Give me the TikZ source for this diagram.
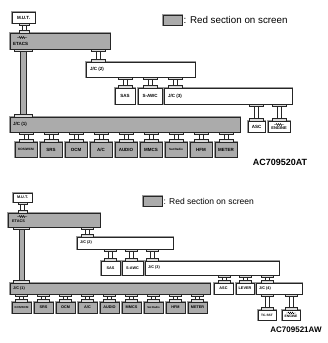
\documentclass[tikz,border=0pt]{standalone}
\usepackage{fontspec}
\setmainfont{Liberation Sans}
\usetikzlibrary{calc}
\tikzset{
  base/.style={rectangle, draw=black!85, line width=0.45pt, inner sep=0pt, outer sep=0pt,
    preaction={draw=black!40, line width=1.4pt}},
  wb/.style={base, fill=white, font=\bfseries\fontsize{4.5}{5}\selectfont},
  gb/.style={base, fill=black!33, font=\bfseries\fontsize{4.5}{5}\selectfont},
  wbs/.style={wb, font=\bfseries\fontsize{3.8}{4.5}\selectfont},
  gbs/.style={gb, font=\bfseries\fontsize{3.8}{4.5}\selectfont},
  lbl/.style={anchor=west, inner sep=0pt, font=\bfseries\fontsize{4.5}{5}\selectfont},
  lbls/.style={anchor=west, inner sep=0pt, font=\bfseries\fontsize{3.8}{4.5}\selectfont},
  wire/.style={draw=black!85, line width=0.45pt},
  tab/.style={draw=black!85, fill=black!15, line width=0.4pt},
}
\newcommand\B[7]{\node[#1, anchor=north west, minimum width={#5-#3}, minimum height={#6-#4}] (#2) at (#3,#4) {#7};}
\newcommand\conn[4]{%
  \coordinate (ct) at (#1.south -| #3,0);
  \coordinate (cb) at (#2.north -| #3,0);
  \draw[wire] ($(ct)+(-2.2,0)$) -- ($(cb)+(-2.2,0)$) ($(ct)+(2.2,0)$) -- ($(cb)+(2.2,0)$);
  \draw[tab] ($(ct)+(-#4,0)$) rectangle ($(ct)+(#4,1.8)$);
  \draw[tab] ($(cb)+(-#4,0)$) rectangle ($(cb)+(#4,-2.4)$);
}
\newcommand\trunk[5]{%
  \coordinate (ct) at (#1.south -| #3,0);
  \coordinate (cb) at (#2.north -| #3,0);
  \fill[black!33] ($(ct)+(-#4,0)$) rectangle ($(cb)+(#4,0)$);
  \draw[wire] ($(ct)+(-#4,0)$) -- ($(cb)+(-#4,0)$) ($(ct)+(#4,0)$) -- ($(cb)+(#4,0)$);
  \draw[tab] ($(ct)+(-#5,0)$) rectangle ($(ct)+(#5,2)$);
  \draw[tab] ($(cb)+(-#5,0)$) rectangle ($(cb)+(#5,-2.6)$);
}
\newcommand\zz[1]{\draw[line width=0.35pt] ($(#1)+(-5,0)$) -- ++(2,0) -- ++(0.5,-0.9) -- ++(1,1.8) -- ++(1,-1.8) -- ++(1,1.8) -- ++(1,-1.8) -- ++(1,1.8) -- ++(0.5,-0.9) -- ++(2,0);}
\begin{document}
\begin{tikzpicture}[x=1pt,y=-1pt]
\useasboundingbox (0,0) rectangle (328,343);
% ================= diagram 1 =================
\B{gb}{legA}{163}{15}{182}{25}{}
\node[anchor=west, inner sep=0pt, font=\fontsize{9.8}{11}\selectfont] (legtA) at (183.5,20) {: Red section on screen};
\B{wb}{mutA}{12}{12}{35}{23}{M.U.T.}
\B{gb}{etA}{10}{33}{110}{49}{}
\coordinate (zA) at (22,37.5); \zz{zA}
\node[lbl] (etlA) at (13,43.5) {ETACS};
\B{wb}{jc2A}{86}{62}{195}{77}{}
\node[lbl] (jc2lA) at (90,69.5) {J/C (2)};
\B{wb}{sasA}{115}{88}{135}{104}{SAS}
\B{wb}{awcA}{138}{88}{162}{104}{S-AWC}
\B{wb}{jc3A}{164}{88}{292}{104}{}
\node[lbl] (jc3lA) at (168,96) {J/C (3)};
\B{wb}{ascA}{248}{121}{265}{132}{ASC}
\B{wb}{engA}{268}{121}{290}{132}{}
\coordinate (zeA) at (279,124.5); \zz{zeA}
\node[inner sep=0pt, font=\bfseries\fontsize{4}{4.5}\selectfont] (englA) at (279,128.5) {ENGINE};
\B{gb}{jc1A}{10}{117}{240}{132}{}
\node[lbl] (jc1lA) at (13,124.5) {J/C (1)};
\B{gbs}{kosA}{15}{142}{37}{157}{\fontsize{3.2}{4}\selectfont KOS/WCM}
\B{gb}{srsA}{40}{142}{62}{157}{SRS}
\B{gb}{ocmA}{65}{142}{87}{157}{OCM}
\B{gb}{acA}{90}{142}{112}{157}{A/C}
\B{gb}{audA}{115}{142}{137}{157}{AUDIO}
\B{gb}{mmcA}{140}{142}{162}{157}{MMCS}
\B{gbs}{satA}{165}{142}{187}{157}{\fontsize{3}{4}\selectfont Sat Radio}
\B{gb}{hfmA}{190}{142}{212}{157}{HFM}
\B{gb}{metA}{215}{142}{237}{157}{METER}
\node[inner sep=0pt, font=\bfseries\fontsize{9}{10}\selectfont] (idA) at (280,162) {AC709520AT};
\conn{mutA}{etA}{24}{5}
\trunk{etA}{jc1A}{23.5}{3}{9}
\conn{etA}{jc2A}{98}{7}
\conn{jc2A}{sasA}{125}{7}
\conn{jc2A}{awcA}{150}{7}
\conn{jc2A}{jc3A}{175}{7}
\conn{jc3A}{ascA}{256.5}{7}
\conn{jc3A}{engA}{279}{7}
\conn{jc1A}{kosA}{26}{7}
\conn{jc1A}{srsA}{51}{7}
\conn{jc1A}{ocmA}{76}{7}
\conn{jc1A}{acA}{101}{7}
\conn{jc1A}{audA}{126}{7}
\conn{jc1A}{mmcA}{151}{7}
\conn{jc1A}{satA}{176}{7}
\conn{jc1A}{hfmA}{201}{7}
\conn{jc1A}{metA}{226}{7}
% ================= diagram 2 =================
\B{gb}{legB}{143}{196}{162}{206}{}
\node[anchor=west, inner sep=0pt, font=\fontsize{8.5}{10}\selectfont] (legtB) at (163.5,201) {: Red section on screen};
\B{wbs}{mutB}{13}{193}{32}{202}{M.U.T.}
\B{gb}{etB}{8}{213}{100}{227}{}
\coordinate (zB) at (22,216.5); \zz{zB}
\node[lbls] (etlB) at (12,221.5) {ETACS};
\B{wb}{jc2B}{77}{237}{173}{249}{}
\node[lbls] (jc2lB) at (80,243) {J/C (2)};
\B{wbs}{sasB}{101}{261}{120}{275}{SAS}
\B{wbs}{awcB}{122}{261}{143}{275}{S-AWC}
\B{wb}{jc3B}{145}{261}{279}{275}{}
\node[lbls] (jc3lB) at (148,268) {J/C (3)};
\B{gb}{jc1B}{10}{283}{210}{294}{}
\node[lbls] (jc1lB) at (13,288.5) {J/C (1)};
\B{gbs}{kosB}{12}{302}{31}{313}{\fontsize{2.8}{3.5}\selectfont KOS/WCM}
\B{gbs}{srsB}{34}{302}{53}{313}{SRS}
\B{gbs}{ocmB}{56}{302}{75}{313}{OCM}
\B{gbs}{acB}{78}{302}{97}{313}{A/C}
\B{gbs}{audB}{100}{302}{119}{313}{AUDIO}
\B{gbs}{mmcB}{122}{302}{141}{313}{MMCS}
\B{gbs}{satB}{144}{302}{163}{313}{\fontsize{2.7}{3.5}\selectfont Sat Radio}
\B{gbs}{hfmB}{166}{302}{185}{313}{HFM}
\B{gbs}{metB}{188}{302}{207}{313}{METER}
\B{wbs}{ascB}{214}{283}{233}{294}{ASC}
\B{wbs}{levB}{236}{283}{254}{294}{LEVER}
\B{wb}{jc4B}{256}{283}{302}{294}{}
\node[lbls] (jc4lB) at (259,288.5) {J/C (4)};
\B{wbs}{tcB}{258}{310}{276}{320}{\fontsize{3.2}{4}\selectfont TC-SST}
\B{wb}{engB}{282}{310}{300}{320}{}
\coordinate (zeB) at (291,313); \zz{zeB}
\node[inner sep=0pt, font=\bfseries\fontsize{3.3}{4}\selectfont] (englB) at (291,316.8) {ENGINE};
\node[inner sep=0pt, font=\bfseries\fontsize{8}{9}\selectfont] (idB) at (296,330) {AC709521AW};
\conn{mutB}{etB}{22.5}{4.5}
\trunk{etB}{jc1B}{21.5}{2.5}{8}
\conn{etB}{jc2B}{87}{6}
\conn{jc2B}{sasB}{110}{6}
\conn{jc2B}{awcB}{131}{6}
\conn{jc2B}{jc3B}{152}{6}
\conn{jc3B}{ascB}{224}{6}
\conn{jc3B}{levB}{245}{6}
\conn{jc3B}{jc4B}{267}{6}
\conn{jc4B}{tcB}{267}{6}
\conn{jc4B}{engB}{291}{6}
\conn{jc1B}{kosB}{21.5}{6}
\conn{jc1B}{srsB}{43.5}{6}
\conn{jc1B}{ocmB}{65.5}{6}
\conn{jc1B}{acB}{87.5}{6}
\conn{jc1B}{audB}{109.5}{6}
\conn{jc1B}{mmcB}{131.5}{6}
\conn{jc1B}{satB}{153.5}{6}
\conn{jc1B}{hfmB}{175.5}{6}
\conn{jc1B}{metB}{197.5}{6}
\end{tikzpicture}
\end{document}
